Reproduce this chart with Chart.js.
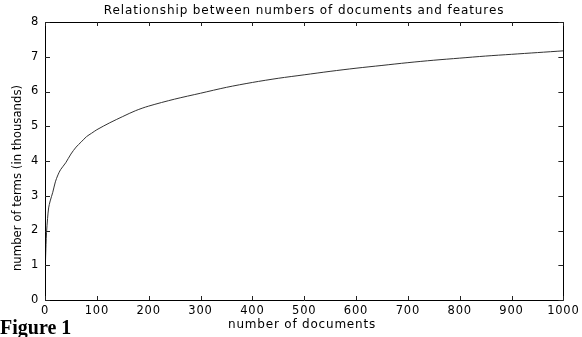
<!DOCTYPE html>
<html>
<head>
<meta charset="utf-8">
<script src="https://cdn.jsdelivr.net/npm/chart.js@4"></script>
<style>
html,body{margin:0;padding:0;background:#fff;}
#wrap{position:relative;width:582px;height:337px;}
</style>
</head>
<body>
<div id="wrap"><canvas id="c" width="582" height="337"></canvas></div>
<script>
const titleText = "Relationship between numbers of documents and features";
const xTitle = "number of documents";
const yTitle = "number of terms (in thousands)";
const figureLabel = "Figure 1";

const docs  = [1, 2, 3, 5, 7, 10, 15, 20, 25, 30, 40, 50, 60, 70, 80, 90, 100, 125, 150, 175, 200, 250, 300, 350, 400, 450, 500, 550, 600, 650, 700, 750, 800, 850, 900, 950, 1000];
const terms = [1.15, 1.6, 1.95, 2.35, 2.65, 2.85, 3.1, 3.4, 3.6, 3.75, 3.95, 4.2, 4.4, 4.55, 4.7, 4.8, 4.9, 5.1, 5.28, 5.45, 5.58, 5.78, 5.95, 6.12, 6.26, 6.38, 6.48, 6.58, 6.67, 6.75, 6.83, 6.9, 6.96, 7.02, 7.07, 7.12, 7.17];

const xMin = 0, xMax = 1000, xStep = 100;
const yMin = 0, yMax = 8, yStep = 1;

const tickFont = {family: "DejaVu Sans", size: 11.5};

const spacingPlugin = {
  id: 'spacingPlugin',
  beforeDraw(chart) { chart.ctx.letterSpacing = '0.8px'; },
  beforeDatasetsDraw(chart) { chart.ctx.letterSpacing = '0px'; }
};

const boxPlugin = {
  id: 'boxPlugin',
  afterDraw(chart) {
    const ctx = chart.ctx;
    const a = chart.chartArea;
    const xs = chart.scales.x, ys = chart.scales.y;
    ctx.save();
    ctx.letterSpacing = '0px';
    ctx.strokeStyle = '#000';
    ctx.lineWidth = 1;
    ctx.beginPath();
    ctx.rect(Math.round(a.left) + 0.5, Math.round(a.top) + 0.5, Math.round(a.right - a.left), Math.round(a.bottom - a.top));
    ctx.stroke();
    ctx.strokeStyle = '#222';
    ctx.beginPath();
    for (let v = xMin; v <= xMax; v += xStep) {
      const px = Math.round(xs.getPixelForValue(v)) + 0.5;
      ctx.moveTo(px, a.bottom); ctx.lineTo(px, a.bottom - 4);
      ctx.moveTo(px, a.top); ctx.lineTo(px, a.top + 4);
    }
    for (let v = yMin; v <= yMax; v += yStep) {
      const py = Math.round(ys.getPixelForValue(v)) + 0.5;
      ctx.moveTo(a.left, py); ctx.lineTo(a.left + 5, py);
      ctx.moveTo(a.right, py); ctx.lineTo(a.right - 5, py);
    }
    ctx.stroke();
    // texts
    ctx.fillStyle = '#000';
    ctx.textAlign = 'center';
    ctx.textBaseline = 'middle';
    ctx.font = '12px "DejaVu Sans"';
    ctx.letterSpacing = '0.9px';
    ctx.fillText(titleText, 304, 11);
    ctx.letterSpacing = '0.8px';
    ctx.fillText(xTitle, 302, 325);
    ctx.letterSpacing = '0px';
    ctx.save();
    ctx.translate(18, 178);
    ctx.rotate(-Math.PI / 2);
    ctx.font = '13px "Liberation Sans Narrow", "DejaVu Sans Condensed", sans-serif';
    ctx.fillText(yTitle, 0, 0);
    ctx.restore();
    ctx.textAlign = 'left';
    ctx.textBaseline = 'alphabetic';
    ctx.font = 'bold 20px "Liberation Serif"';
    ctx.fillText(figureLabel, 0, 334);
    ctx.restore();
  }
};

new Chart(document.getElementById('c'), {
  type: 'line',
  data: {
    datasets: [{
      data: docs.map((d, i) => ({x: d, y: terms[i]})),
      borderColor: '#333',
      borderWidth: 1,
      pointRadius: 0,
      tension: 0.3,
      fill: false
    }]
  },
  options: {
    responsive: false,
    animation: false,
    devicePixelRatio: 1,
    layout: {padding: {left: 0, right: 16, top: 22, bottom: 0}},
    plugins: {legend: {display: false}, tooltip: {enabled: false}, title: {display: false}},
    scales: {
      x: {
        type: 'linear', min: xMin, max: xMax,
        grid: {display: false, drawTicks: false},
        border: {display: false},
        ticks: {stepSize: xStep, color: '#000', font: tickFont, padding: 4, maxRotation: 0, autoSkip: false,
                callback: v => String(v)},
        afterFit(s) { s.height = 37; }
      },
      y: {
        type: 'linear', min: yMin, max: yMax,
        grid: {display: false, drawTicks: false},
        border: {display: false},
        ticks: {stepSize: yStep, color: '#000', font: tickFont, padding: 6, callback: v => String(v)},
        afterFit(s) { s.width = 45; }
      }
    }
  },
  plugins: [spacingPlugin, boxPlugin]
});
</script>
</body>
</html>
